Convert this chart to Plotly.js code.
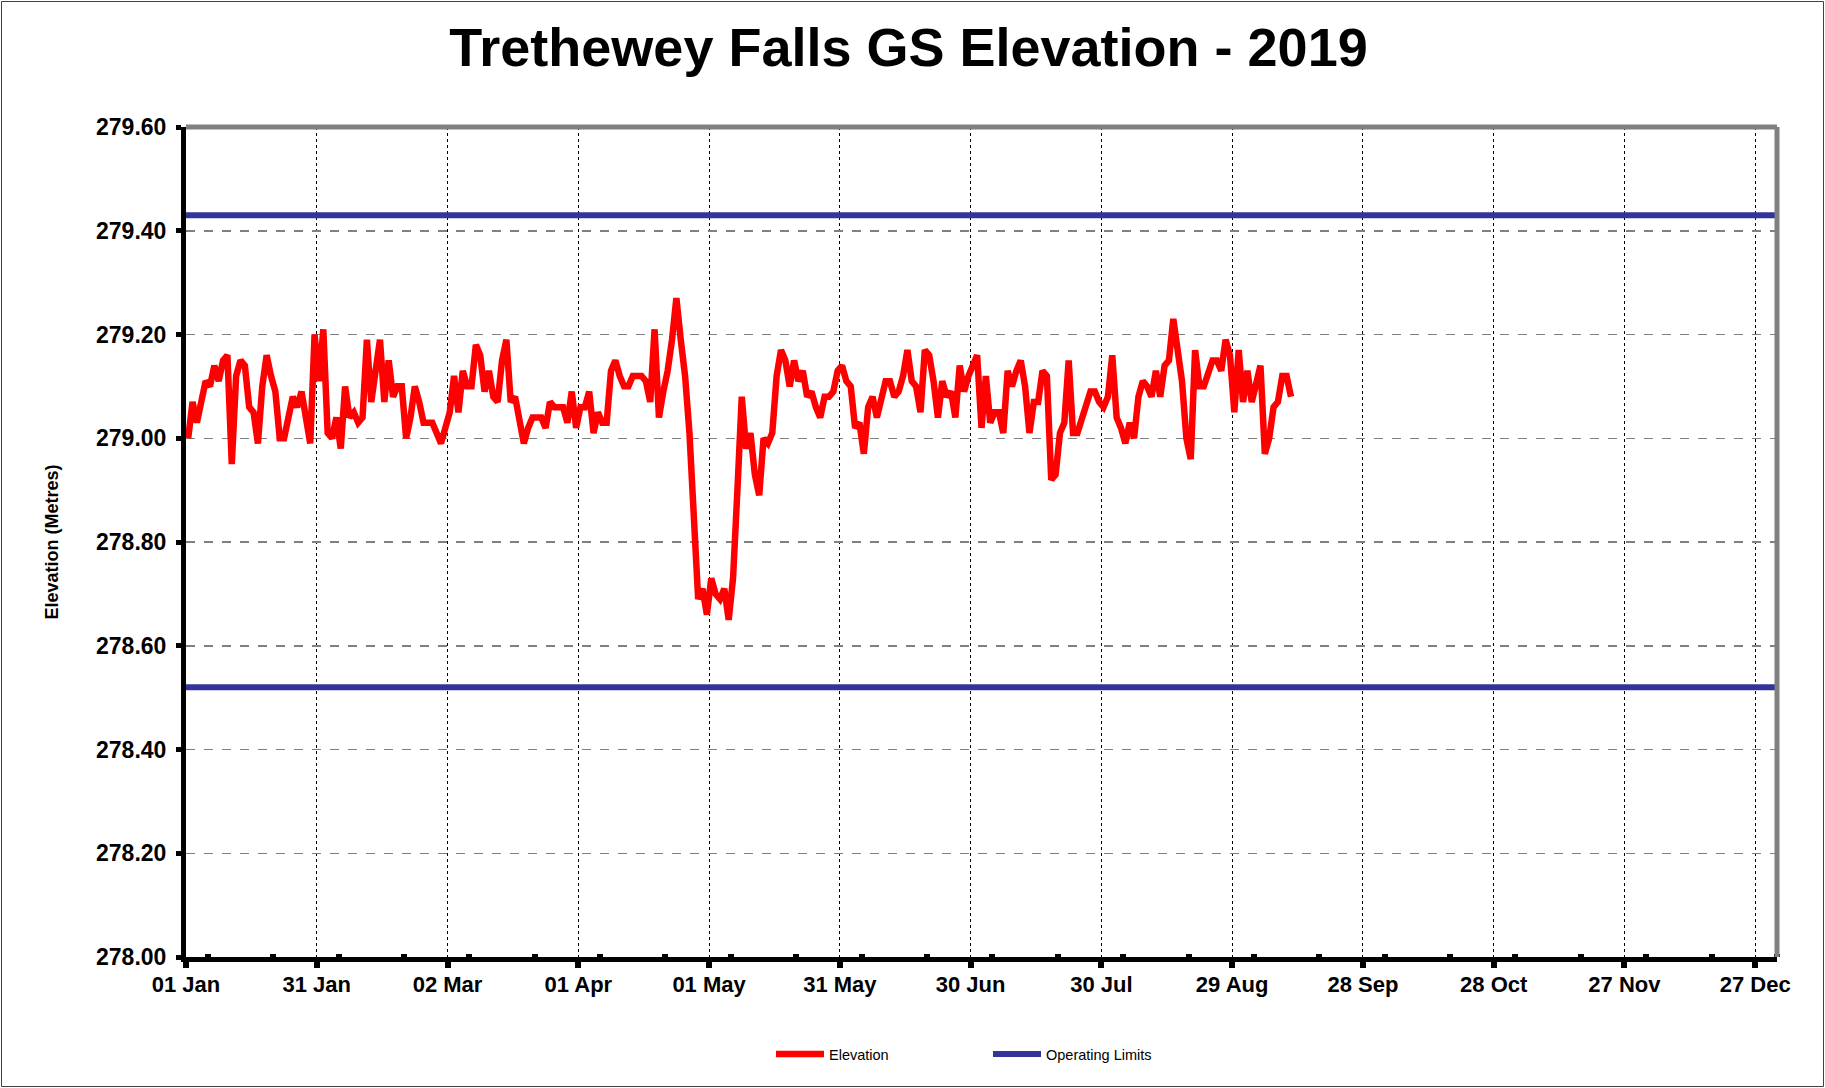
<!DOCTYPE html>
<html>
<head>
<meta charset="utf-8">
<script src="https://cdn.plot.ly/plotly-3.0.1.min.js"></script>
<style>
  html, body { margin: 0; padding: 0; background: #ffffff; }
  #chart { width: 1825px; height: 1088px; }
</style>
</head>
<body>
<div id="chart"></div>
<script>
// ---- Data ----
const chartTitle = "Trethewey Falls GS Elevation - 2019";
const yAxisTitle = "Elevation (Metres)";
const seriesNames = ["Elevation", "Operating Limits"];

// Daily elevation readings, starting 01 Jan 2019
const startDate = "2019-01-01";
const elevation = [
  279.00, 279.07, 279.03, 279.07, 279.11, 279.10, 279.14, 279.11, 279.15, 279.16,
  278.95, 279.12, 279.15, 279.14, 279.06, 279.05, 278.99, 279.10, 279.16, 279.12,
  279.09, 279.00, 279.00, 279.04, 279.08, 279.06, 279.09, 279.04, 278.99, 279.20,
  279.11, 279.21, 279.01, 279.00, 279.04, 278.98, 279.10, 279.04, 279.05, 279.03,
  279.04, 279.19, 279.07, 279.13, 279.19, 279.07, 279.15, 279.08, 279.10, 279.10,
  279.00, 279.04, 279.10, 279.07, 279.03, 279.03, 279.03, 279.01, 278.99, 279.02,
  279.05, 279.12, 279.05, 279.13, 279.10, 279.10, 279.18, 279.16, 279.09, 279.13,
  279.08, 279.07, 279.15, 279.19, 279.07, 279.08, 279.04, 278.99, 279.02, 279.04,
  279.04, 279.04, 279.02, 279.07, 279.06, 279.06, 279.06, 279.03, 279.09, 279.02,
  279.06, 279.06, 279.09, 279.01, 279.05, 279.03, 279.03, 279.13, 279.15, 279.12,
  279.10, 279.10, 279.12, 279.12, 279.12, 279.11, 279.07, 279.21, 279.04, 279.09,
  279.13, 279.19, 279.27, 279.19, 279.12, 279.01, 278.84, 278.69, 278.71, 278.66,
  278.73, 278.70, 278.69, 278.71, 278.65, 278.73, 278.90, 279.08, 278.98, 279.01,
  278.93, 278.89, 279.00, 278.99, 279.01, 279.12, 279.17, 279.15, 279.10, 279.15,
  279.11, 279.13, 279.08, 279.09, 279.06, 279.04, 279.08, 279.08, 279.09, 279.13,
  279.14, 279.11, 279.10, 279.02, 279.03, 278.97, 279.06, 279.08, 279.04, 279.07,
  279.11, 279.11, 279.08, 279.09, 279.12, 279.17, 279.11, 279.10, 279.05, 279.17,
  279.16, 279.11, 279.04, 279.11, 279.08, 279.09, 279.04, 279.14, 279.09, 279.12,
  279.14, 279.16, 279.02, 279.12, 279.03, 279.05, 279.05, 279.01, 279.13, 279.10,
  279.13, 279.15, 279.10, 279.01, 279.07, 279.07, 279.13, 279.12, 278.92, 278.93,
  279.01, 279.03, 279.15, 279.01, 279.01, 279.04, 279.06, 279.09, 279.09, 279.07,
  279.06, 279.08, 279.16, 279.04, 279.02, 278.99, 279.03, 279.00, 279.08, 279.11,
  279.10, 279.08, 279.13, 279.08, 279.14, 279.15, 279.23, 279.17, 279.11, 279.00,
  278.96, 279.17, 279.10, 279.10, 279.13, 279.15, 279.15, 279.13, 279.19, 279.16,
  279.05, 279.17, 279.07, 279.13, 279.07, 279.11, 279.14, 278.97, 279.00, 279.06,
  279.07, 279.12, 279.12, 279.08
];

// Operating limits
const upperLimit = 279.43;
const lowerLimit = 278.52;
const limitStart = "2019-01-01";
const limitEnd = "2020-01-01";

// Axis settings
const xRange = ["2019-01-01", "2020-01-01"];
const yRange = [278.00, 279.60];
const yStep = 0.20;
const xStepDays = 30;

// ---- Build date axis for daily readings (readings plotted at mid-day) ----
const dayMs = 86400000;
const t0 = Date.parse(startDate + "T12:00:00Z");
const elevDates = elevation.map((_, i) =>
  new Date(t0 + i * dayMs).toISOString().slice(0, 19).replace("T", " "));

const FONT = "'Liberation Sans', Arial, Helvetica, sans-serif";

const traces = [
  {
    type: "scatter", mode: "lines", name: seriesNames[0],
    x: elevDates, y: elevation,
    line: { color: "#FF0000", width: 6.5 },
    hoverinfo: "skip"
  },
  {
    type: "scatter", mode: "lines", name: seriesNames[1],
    x: [limitStart, limitEnd, null, limitStart, limitEnd],
    y: [upperLimit, upperLimit, null, lowerLimit, lowerLimit],
    connectgaps: false,
    line: { color: "#333399", width: 6 },
    hoverinfo: "skip"
  }
];

const L = 186, R = 48, T = 127, B = 131;
const W = 1825, H = 1088;
const pw = W - L - R, ph = H - T - B;

const layout = {
  width: W, height: H,
  margin: { l: L, r: R, t: T, b: B, pad: 0 },
  paper_bgcolor: "#ffffff",
  plot_bgcolor: "#ffffff",
  font: { family: FONT, color: "#000000" },
  showlegend: true,
  title: {
    text: "<b>" + chartTitle + "</b>",
    font: { family: FONT, size: 54, color: "#000000" },
    x: 0.5 - 4 / W, xref: "container", xanchor: "center",
    y: 1 - 47 / H, yref: "container", yanchor: "middle"
  },
  xaxis: {
    type: "date",
    range: xRange,
    tick0: xRange[0],
    dtick: xStepDays * dayMs,
    tickformat: "%d %b",
    tickfont: { family: FONT, size: 22, color: "#000000", weight: "bold" },
    ticks: "outside", ticklen: 6, tickwidth: 6, tickcolor: "#000000",
    ticklabelstandoff: -2,
    showline: true, linecolor: "#000000", linewidth: 5,
    showgrid: true, gridcolor: "#000000", gridwidth: 1, griddash: "dot",
    zeroline: false,
    minor: { dtick: xStepDays / 2 * dayMs, ticks: "inside", ticklen: 3, tickwidth: 6, tickcolor: "#000000", showgrid: false },
    fixedrange: true
  },
  yaxis: {
    range: yRange,
    dtick: yStep,
    tick0: yRange[0],
    tickformat: ".2f",
    tickfont: { family: FONT, size: 23, color: "#000000", weight: "bold" },
    ticks: "outside", ticklen: 5, tickwidth: 5, tickcolor: "#000000",
    ticklabelstandoff: 5,
    showline: true, linecolor: "#000000", linewidth: 5,
    showgrid: true, gridcolor: "#808080", gridwidth: 1.5, griddash: "dash",
    zeroline: false,
    title: { text: "<b>" + yAxisTitle + "</b>", font: { family: FONT, size: 18, color: "#000000" }, standoff: 34 },
    fixedrange: true
  },
  legend: {
    orientation: "h",
    x: (771 - L) / pw, xanchor: "left",
    y: (957 - 1054) / ph, yanchor: "middle",
    font: { family: FONT, size: 14.5, color: "#000000" },
    itemwidth: 48,
    entrywidth: 154,
    bgcolor: "rgba(0,0,0,0)"
  },
  shapes: [
    // gray top and right frame of the plot area
    { type: "line", xref: "paper", yref: "paper", x0: 0, x1: 1, y0: 1, y1: 1,
      line: { color: "#808080", width: 5 } },
    { type: "line", xref: "paper", yref: "paper", x0: 1, x1: 1, y0: 0, y1: 1,
      line: { color: "#808080", width: 5 } },
    // thin outer border of the chart area
    { type: "rect", xref: "paper", yref: "paper",
      x0: (1.5 - L) / pw, x1: (W - 1.5 - L) / pw,
      y0: (957 - (H - 1.5)) / ph, y1: (957 - 1.5) / ph,
      line: { color: "#404040", width: 1 }, fillcolor: "rgba(0,0,0,0)" }
  ]
};

Plotly.newPlot("chart", traces, layout, { displayModeBar: false, staticPlot: true });
</script>
</body>
</html>
